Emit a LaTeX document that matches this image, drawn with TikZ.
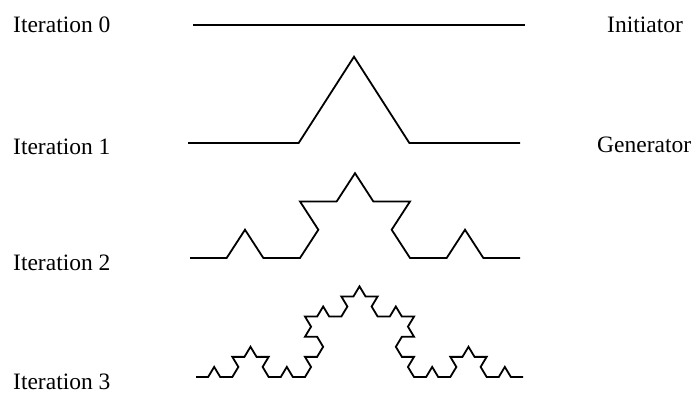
\documentclass[tikz,border=0pt]{standalone}
\usepackage{fontspec}
\setmainfont{Liberation Serif}
% turn of one segment at one level of the Koch curve
\newcommand{\kochturn}[1]{60*((mod(#1,4)==1)-(mod(#1,4)==2))}
\newcommand{\kochdir}[1]{\kochturn{#1}+\kochturn{floor(#1/4)}+\kochturn{floor(#1/16)}}
\begin{document}
\begin{tikzpicture}[
    x=1pt, y=1pt,
    curve/.style={line width=1.8pt, line join=miter},
    itertext/.style={anchor=west, inner sep=0pt, font=\fontsize{23.5}{28}\selectfont}
]
\useasboundingbox (0,0) rectangle (695,396);

% Iteration 0: initiator
\node[itertext] (it0) at (13,371) {Iteration 0};
\node[itertext] (init) at (607,371) {Initiator};
\coordinate (a0) at (193,371);
\coordinate (b0) at (525,371);
\draw[curve] (a0) -- (b0);

% Iteration 1: generator
\node[itertext] (it1) at (13,249) {Iteration 1};
\node[itertext] (gen) at (597,251) {Generator};
\begin{scope}[shift={(188,253)}, yscale=0.9]
    \draw[curve] (0,0) coordinate (a1)
        \foreach \k [evaluate=\k as \ang using {\kochdir{\k}}] in {0,...,3} { -- ++(\ang:110.67) };
\end{scope}

% Iteration 2
\node[itertext] (it2) at (13,133) {Iteration 2};
\begin{scope}[shift={(190,138)}, yscale=0.89]
    \draw[curve] (0,0) coordinate (a2)
        \foreach \k [evaluate=\k as \ang using {\kochdir{\k}}] in {0,...,15} { -- ++(\ang:36.667) };
\end{scope}

% Iteration 3
\node[itertext] (it3) at (13,14) {Iteration 3};
\begin{scope}[shift={(196,19)}, yscale=0.96]
    \draw[curve] (0,0) coordinate (a3)
        \foreach \k [evaluate=\k as \ang using {\kochdir{\k}}] in {0,...,63} { -- ++(\ang:12.111) };
\end{scope}

\end{tikzpicture}
\end{document}
